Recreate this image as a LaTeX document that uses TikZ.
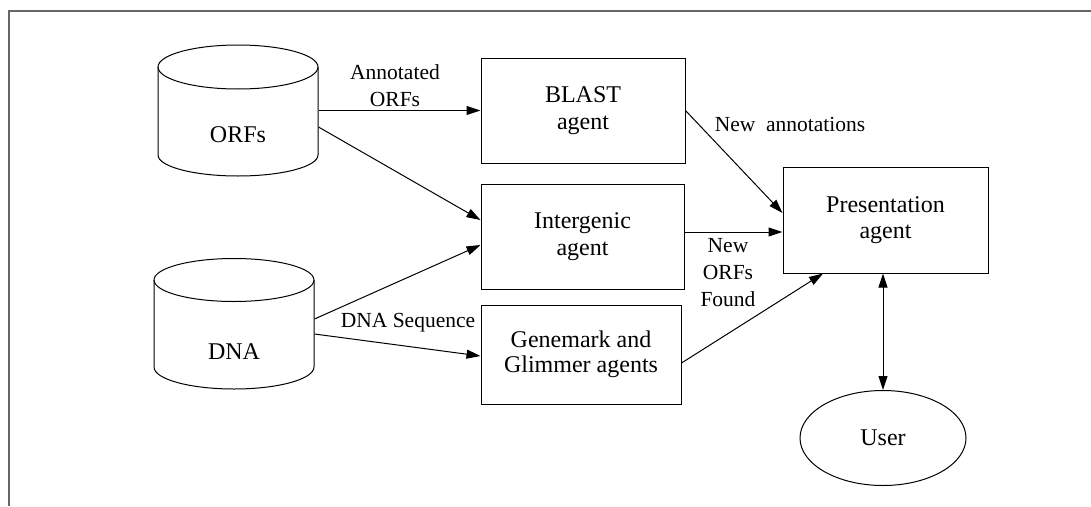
\documentclass[tikz,border=0pt]{standalone}
\usepackage{fontspec}
\setmainfont{Liberation Serif}
\usetikzlibrary{arrows.meta,shapes.geometric}
\begin{document}
\begin{tikzpicture}[x=1pt,y=-1pt,
  line width=1pt,
  box/.style={draw,rectangle,inner sep=0pt,align=center,font=\fontsize{24}{27}\selectfont},
  cyltext/.style={inner sep=0pt,font=\fontsize{24}{27}\selectfont},
  cylbody/.style={inner sep=0pt,minimum width=160pt,minimum height=131pt},
  elab/.style={inner sep=0pt,align=center,font=\fontsize{21.5}{27}\selectfont},
  arr/.style={-{Triangle[length=14pt,width=9pt]}},
  darr/.style={{Triangle[length=14pt,width=9pt]}-{Triangle[length=14pt,width=9pt]}},
  frame/.style={draw=black!60,line width=1.6pt}]
\useasboundingbox (0,0) rectangle (1091,506);
% partial frame
\draw[frame] (9,506) -- (9,11) -- (1091,11);

% ORFs cylinder
\draw (158,67) -- (158,155) arc[start angle=180,end angle=360,x radius=80pt,y radius=21pt] -- (318,67);
\draw (238,67) ellipse [x radius=80pt,y radius=22pt];
\node[cylbody] (orfs) at (238,110.5) {};
\node[cyltext] (orfst) at (238,135) {ORFs};

% DNA cylinder
\draw (154,280) -- (154,367) arc[start angle=180,end angle=360,x radius=80pt,y radius=22pt] -- (314,280);
\draw (234,280) ellipse [x radius=80pt,y radius=21.5pt];
\node[cylbody] (dna) at (234,323.5) {};
\node[cyltext] (dnat) at (234,352) {DNA};

% agent boxes
\node[box,minimum width=204pt,minimum height=105pt] (blast) at (583,110.5) {BLAST\\agent};
\node[box,minimum width=203pt,minimum height=105pt] (inter) at (582.5,236.5) {Intergenic\\agent};
\node[box,minimum width=200pt,minimum height=99pt,font=\fontsize{24}{25.5}\selectfont] (gene) at (581,354.5) {Genemark and\\Glimmer agents};
\node[box,minimum width=205pt,minimum height=106pt,font=\fontsize{24}{26}\selectfont] (pres) at (885.5,220) {Presentation\\agent};
\node[draw,ellipse,inner sep=0pt,minimum width=166pt,minimum height=95pt,font=\fontsize{24}{27}\selectfont] (user) at (883,438) {User};

% connectors
\draw[arr] (orfs.east |- blast.west) -- (blast.west);
\draw[arr] ([yshift=-16.5pt]orfs.east) -- ([yshift=16.5pt]inter.west);
\draw[arr] ([yshift=4.5pt]dna.east) -- ([yshift=-8.5pt]inter.west);
\draw[arr] ([yshift=-10.5pt]dna.east) -- ([yshift=-1.5pt]gene.west);
\draw[arr] (blast.east) -- ([yshift=7pt]pres.west);
\draw[arr] ([yshift=4.5pt]inter.east) -- ([yshift=-12pt]pres.west);
\draw[arr] ([yshift=-8.5pt]gene.east) -- ([xshift=-62.5pt]pres.south);
\draw[darr] (user.north |- pres.south) -- (user.north);

% labels
\node[elab] (lab1) at (395,86) {Annotated\\ORFs};
\node[elab] (lab2) at (408,323) {DNA Sequence};
\node[elab] (lab3) at (790,124) {New\enspace annotations};
\node[elab] (lab4) at (728,273) {New\\ORFs\\Found};
\end{tikzpicture}
\end{document}
